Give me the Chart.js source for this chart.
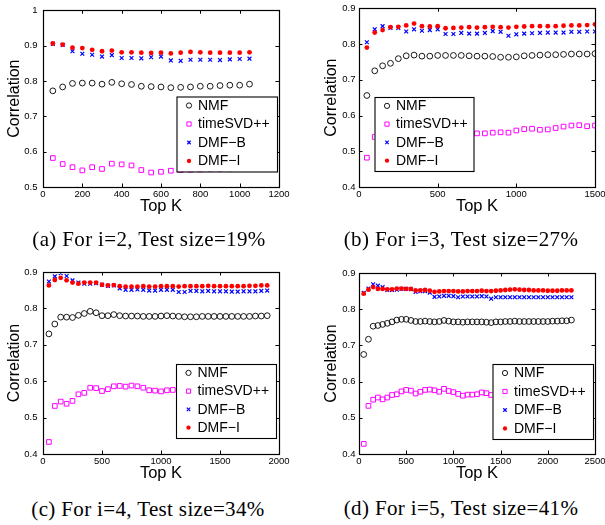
<!DOCTYPE html>
<html>
<head>
<meta charset="utf-8">
<script src="https://cdn.jsdelivr.net/npm/chart.js@4.4.0/dist/chart.umd.min.js"></script>
<style>
html, body { margin:0; padding:0; background:#fff; }
body { width:605px; height:525px; overflow:hidden; position:relative; }
.wrap { position:absolute; }
.cap { position:absolute; font-family:"Liberation Serif","Times New Roman",serif; font-size:21px; letter-spacing:0.35px; color:#000; white-space:nowrap; transform:translate(-50%,-50%); }
</style>
</head>
<body>
<div class="wrap" id="wa" style="left:0px;top:0px;width:300px;height:235px"><canvas id="ca"></canvas></div>
<div class="wrap" id="wb" style="left:300px;top:0px;width:320px;height:235px"><canvas id="cb"></canvas></div>
<div class="wrap" id="wc" style="left:0px;top:255px;width:300px;height:235px"><canvas id="cc"></canvas></div>
<div class="wrap" id="wd" style="left:300px;top:255px;width:320px;height:235px"><canvas id="cd"></canvas></div>
<div class="cap" style="left:149px;top:239px">(a) For i=2, Test size=19%</div>
<div class="cap" style="left:461px;top:239px">(b) For i=3, Test size=27%</div>
<div class="cap" style="left:148px;top:509px">(c) For i=4, Test size=34%</div>
<div class="cap" style="left:461px;top:508px">(d) For i=5, Test size=41%</div>
<script>
// ---------- DATA ----------
const seriesNames = ["NMF", "timeSVD++", "DMF\u2212B", "DMF\u2212I"];

// (a) i=2
const kA = [50,100,150,200,250,300,350,400,450,500,550,600,650,700,750,800,850,900,950,1000,1050];
const nmfA  = [0.772,0.783,0.793,0.794,0.794,0.791,0.796,0.792,0.790,0.785,0.784,0.783,0.781,0.782,0.783,0.785,0.785,0.787,0.788,0.788,0.791];
const svdA  = [0.582,0.565,0.556,0.547,0.556,0.551,0.566,0.564,0.561,0.548,0.541,0.543,0.546,0.548,0.549,0.550,0.551,0.551,0.552,0.553,0.554];
const dmfbA = [0.905,0.902,0.884,0.877,0.874,0.869,0.873,0.865,0.865,0.864,0.867,0.869,0.858,0.857,0.860,0.860,0.860,0.859,0.861,0.862,0.863];
const dmfiA = [0.906,0.903,0.894,0.893,0.888,0.884,0.886,0.881,0.881,0.880,0.879,0.880,0.878,0.880,0.882,0.881,0.880,0.880,0.880,0.880,0.881];

// (b) i=3
const kB = [50,100,150,200,250,300,350,400,450,500,550,600,650,700,750,800,850,900,950,1000,1050,1100,1150,1200,1250,1300,1350,1400,1450,1500];
const nmfB  = [0.656,0.725,0.739,0.746,0.759,0.767,0.769,0.766,0.766,0.768,0.768,0.768,0.768,0.767,0.766,0.766,0.765,0.763,0.763,0.764,0.767,0.768,0.769,0.770,0.770,0.771,0.772,0.772,0.772,0.773];
const svdB  = [0.482,0.540,0.545,0.547,0.548,0.549,0.550,0.549,0.548,0.549,0.550,0.549,0.548,0.549,0.550,0.550,0.552,0.553,0.552,0.558,0.562,0.563,0.560,0.561,0.565,0.569,0.572,0.573,0.570,0.572];
const dmfbB = [0.805,0.841,0.850,0.845,0.845,0.835,0.841,0.837,0.839,0.841,0.828,0.828,0.831,0.829,0.829,0.831,0.836,0.834,0.823,0.827,0.829,0.830,0.831,0.832,0.832,0.832,0.834,0.834,0.835,0.835];
const dmfiB = [0.790,0.832,0.839,0.847,0.848,0.852,0.857,0.850,0.849,0.850,0.844,0.845,0.846,0.847,0.846,0.847,0.848,0.847,0.846,0.848,0.849,0.850,0.850,0.850,0.850,0.851,0.852,0.852,0.853,0.855];

// (c) i=4
const kC = [50,100,150,200,250,300,350,400,450,500,550,600,650,700,750,800,850,900,950,1000,1050,1100,1150,1200,1250,1300,1350,1400,1450,1500,1550,1600,1650,1700,1750,1800,1850,1900];
const nmfC  = [0.730,0.757,0.776,0.776,0.775,0.781,0.786,0.792,0.788,0.780,0.780,0.783,0.780,0.779,0.779,0.779,0.778,0.778,0.778,0.779,0.780,0.779,0.778,0.777,0.777,0.777,0.778,0.778,0.778,0.778,0.778,0.778,0.778,0.778,0.778,0.779,0.779,0.780];
const svdC  = [0.433,0.532,0.544,0.538,0.546,0.564,0.568,0.582,0.581,0.573,0.578,0.586,0.587,0.585,0.588,0.586,0.582,0.575,0.574,0.572,0.575,0.576,0.575,0.574,0.575,0.576,0.577,0.576,0.575,0.576,0.577,0.578,0.577,0.576,0.577,0.578,0.578,0.579];
const dmfbC = [0.874,0.888,0.897,0.889,0.877,0.871,0.868,0.868,0.869,0.865,0.862,0.863,0.855,0.851,0.851,0.852,0.851,0.849,0.849,0.851,0.851,0.851,0.845,0.845,0.848,0.848,0.847,0.848,0.847,0.847,0.847,0.846,0.846,0.847,0.847,0.847,0.848,0.849];
const dmfiC = [0.863,0.878,0.884,0.877,0.871,0.868,0.871,0.871,0.871,0.865,0.863,0.864,0.861,0.860,0.860,0.860,0.861,0.860,0.860,0.861,0.861,0.861,0.860,0.861,0.861,0.861,0.861,0.862,0.861,0.861,0.861,0.861,0.861,0.861,0.862,0.862,0.863,0.863];

// (d) i=5
const kD = [50,100,150,200,250,300,350,400,450,500,550,600,650,700,750,800,850,900,950,1000,1050,1100,1150,1200,1250,1300,1350,1400,1450,1500,1550,1600,1650,1700,1750,1800,1850,1900,1950,2000,2050,2100,2150,2200,2250];
const nmfD  = [0.675,0.717,0.753,0.755,0.758,0.761,0.765,0.770,0.772,0.772,0.769,0.766,0.766,0.767,0.766,0.765,0.766,0.769,0.767,0.765,0.765,0.764,0.765,0.765,0.765,0.765,0.764,0.763,0.765,0.765,0.766,0.766,0.767,0.766,0.766,0.766,0.766,0.766,0.766,0.766,0.767,0.767,0.768,0.768,0.770];
const svdD  = [0.428,0.533,0.550,0.556,0.551,0.556,0.563,0.565,0.573,0.577,0.575,0.567,0.572,0.577,0.578,0.576,0.572,0.580,0.574,0.571,0.566,0.561,0.564,0.564,0.565,0.570,0.568,0.563,0.564,0.565,0.566,0.565,0.566,0.567,0.566,0.567,0.568,0.567,0.568,0.569,0.568,0.569,0.570,0.569,0.570];
const dmfbD = [0.845,0.857,0.869,0.865,0.861,0.853,0.853,0.854,0.856,0.856,0.855,0.848,0.850,0.850,0.846,0.834,0.835,0.837,0.837,0.836,0.833,0.835,0.835,0.835,0.835,0.836,0.835,0.829,0.833,0.833,0.833,0.833,0.833,0.833,0.833,0.833,0.833,0.833,0.833,0.833,0.833,0.833,0.833,0.833,0.833];
const dmfiD = [0.843,0.854,0.861,0.856,0.856,0.855,0.855,0.857,0.857,0.856,0.856,0.852,0.852,0.853,0.851,0.848,0.849,0.850,0.850,0.850,0.849,0.849,0.850,0.850,0.850,0.851,0.850,0.850,0.851,0.852,0.853,0.854,0.855,0.854,0.853,0.853,0.852,0.852,0.852,0.851,0.851,0.851,0.852,0.852,0.852];

// ---------- STYLES ----------
const styles = [
  { pointStyle:'circle',   radius:2.9, borderColor:'#000000', backgroundColor:'rgba(0,0,0,0)', borderWidth:0.9, order:3 },
  { pointStyle:'rect',     radius:3.3, borderColor:'#ff00ff', backgroundColor:'rgba(0,0,0,0)', borderWidth:1.0, order:2 },
  { pointStyle:'crossRot', radius:2.7, borderColor:'#0000ff', backgroundColor:'#0000ff',       borderWidth:1.2, order:1 },
  { pointStyle:'circle',   radius:2.4, borderColor:'#ff0000', backgroundColor:'#ff0000',       borderWidth:0,   order:0 }
];

function drawMarker(ctx, st, x, y, scale) {
  const r = st.radius * scale;
  ctx.save();
  ctx.lineWidth = st.borderWidth || 1;
  ctx.strokeStyle = st.borderColor;
  ctx.fillStyle = st.backgroundColor;
  ctx.beginPath();
  if (st.pointStyle === 'circle') {
    ctx.arc(x, y, r, 0, Math.PI*2);
    if (st.backgroundColor !== 'rgba(0,0,0,0)') ctx.fill();
    if (st.borderWidth > 0) ctx.stroke();
  } else if (st.pointStyle === 'rect') {
    const s = Math.SQRT1_2 * r;
    ctx.rect(x - s, y - s, 2*s, 2*s);
    ctx.stroke();
  } else {
    const o = Math.SQRT1_2 * r;
    ctx.moveTo(x-o, y-o); ctx.lineTo(x+o, y+o);
    ctx.moveTo(x-o, y+o); ctx.lineTo(x+o, y-o);
    ctx.stroke();
  }
  ctx.restore();
}

const matlabPlugin = {
  id: 'matlab',
  afterDraw(chart) {
    const o = chart.options.plugins.matlab;
    const { ctx, chartArea: a, scales: { x, y } } = chart;
    ctx.save();
    ctx.strokeStyle = '#000';
    ctx.lineWidth = 1;
    const tl = 3.5;
    ctx.beginPath();
    x.ticks.forEach(t => {
      const px = Math.round(x.getPixelForValue(t.value)) + 0.5;
      ctx.moveTo(px, a.bottom); ctx.lineTo(px, a.bottom - tl);
      ctx.moveTo(px, a.top); ctx.lineTo(px, a.top + tl);
    });
    y.ticks.forEach(t => {
      const py = Math.round(y.getPixelForValue(t.value)) + 0.5;
      ctx.moveTo(a.left, py); ctx.lineTo(a.left + tl, py);
      ctx.moveTo(a.right, py); ctx.lineTo(a.right - tl, py);
    });
    ctx.stroke();
    ctx.lineWidth = 1.2;
    ctx.strokeRect(Math.round(a.left) + 0.5, Math.round(a.top) + 0.5, Math.round(a.right - a.left), Math.round(a.bottom - a.top));
    // legend box
    const L = o.legend;
    ctx.fillStyle = '#fff';
    ctx.fillRect(L.x, L.y, L.w, L.h);
    ctx.lineWidth = 1.1;
    ctx.strokeRect(L.x + 0.5, L.y + 0.5, L.w, L.h);
    ctx.font = '14px "Liberation Sans", Arial, sans-serif';
    ctx.fillStyle = '#000';
    ctx.textBaseline = 'middle';
    ctx.textAlign = 'left';
    const rows = [9, 27.5, 46, 64.5];
    seriesNames.forEach((n, i) => {
      const yy = L.y + rows[i] * (L.h / 75);
      drawMarker(ctx, styles[i], L.x + 12.5, yy, 0.9);
      ctx.fillText(n, L.x + 21.5, yy + 0.5);
    });
    ctx.restore();
  }
};

function makeChart(id, cfg) {
  const canvas = document.getElementById(id);
  const ds = [cfg.nmf, cfg.svd, cfg.dmfb, cfg.dmfi].map((vals, i) => ({
    label: seriesNames[i],
    data: cfg.k.map((kk, j) => ({ x: kk, y: vals[j] })),
    showLine: false,
    pointRadius: styles[i].radius,
    pointBorderWidth: styles[i].borderWidth,
    pointBorderColor: styles[i].borderColor,
    pointBackgroundColor: styles[i].backgroundColor,
    borderColor: styles[i].borderColor,
    backgroundColor: styles[i].backgroundColor,
    pointStyle: styles[i].pointStyle,
    order: styles[i].order
  }));
  const tickFont = { family: '"Liberation Sans", Arial, sans-serif', size: 9.5, lineHeight: 1 };
  return new Chart(canvas, {
    type: 'scatter',
    data: { datasets: ds },
    plugins: [matlabPlugin],
    options: {
      responsive: false,
      maintainAspectRatio: false,
      animation: false,
      events: [],
      devicePixelRatio: 1,
      layout: { padding: { top: cfg.padTop, right: cfg.padRight, left: 0, bottom: 0 } },
      plugins: {
        legend: { display: false },
        tooltip: { enabled: false },
        matlab: { legend: cfg.legend }
      },
      scales: {
        x: {
          type: 'linear', min: 0, max: cfg.xMax,
          grid: { display: false, drawTicks: false },
          border: { display: false },
          ticks: { stepSize: cfg.xStep, color: '#000', font: tickFont, padding: 3, maxRotation: 0, autoSkip: false,
                   callback: v => String(v) },
          title: { display: true, text: 'Top K', color: '#000',
                   font: { family: '"Liberation Sans", Arial, sans-serif', size: 16.5, lineHeight: 1 },
                   padding: { top: 0, bottom: cfg.xTitlePad } },
          afterFit: s => { s.height = cfg.xAxisH; }
        },
        y: {
          type: 'linear', min: cfg.yMin, max: cfg.yMax,
          grid: { display: false, drawTicks: false },
          border: { display: false },
          ticks: { stepSize: 0.1, color: '#000', font: tickFont, padding: cfg.yTickPad, autoSkip: false,
                   callback: v => String(Math.round(v * 10) / 10) },
          title: { display: true, text: 'Correlation', color: '#000',
                   font: { family: '"Liberation Sans", Arial, sans-serif', size: 16, lineHeight: 1 },
                   padding: { top: cfg.yTitlePad, bottom: 0 } },
          afterFit: s => { s.width = cfg.yAxisW; }
        }
      }
    }
  });
}

function setup(id, L, T, W, area, extra) {
  const c = document.getElementById(id);
  c.width = W; c.height = 235;
  c.style.width = W + 'px'; c.style.height = '235px';
  const cfg = Object.assign({
    padTop: area.top - T,
    padRight: (L + W) - area.right,
    yAxisW: area.left - L,
    xAxisH: 235 - (area.bottom - T)
  }, extra);
  cfg.xTitlePad = 235 - 8.25 - (area.bottom + 19.5 - T);
  return makeChart(id, cfg);
}

setup('ca', 0, 0, 300, { left:43, top:7, right:279, bottom:187 }, {
  k: kA, nmf: nmfA, svd: svdA, dmfb: dmfbA, dmfi: dmfiA,
  xMax: 1200, xStep: 200, yMin: 0.5, yMax: 1.0, yTickPad: 5.5, yTitlePad: 7,
  legend: { x: 176.5, y: 96.5, w: 100.5, h: 75 }
});
setup('cb', 300, 0, 320, { left:359, top:6, right:595, bottom:187 }, {
  k: kB, nmf: nmfB, svd: svdB, dmfb: dmfbB, dmfi: dmfiB,
  xMax: 1500, xStep: 500, yMin: 0.4, yMax: 0.9, yTickPad: 3.5, yTitlePad: 23.5,
  legend: { x: 74.5, y: 97, w: 99, h: 74 }
});
setup('cc', 0, 255, 300, { left:43, top:272, right:279, bottom:454 }, {
  k: kC, nmf: nmfC, svd: svdC, dmfb: dmfbC, dmfi: dmfiC,
  xMax: 2000, xStep: 500, yMin: 0.4, yMax: 0.9, yTickPad: 5.5, yTitlePad: 7,
  legend: { x: 176, y: 109, w: 100, h: 74 }
});
setup('cd', 300, 255, 320, { left:359, top:273, right:595, bottom:454 }, {
  k: kD, nmf: nmfD, svd: svdD, dmfb: dmfbD, dmfi: dmfiD,
  xMax: 2500, xStep: 500, yMin: 0.4, yMax: 0.9, yTickPad: 3.5, yTitlePad: 23.5,
  legend: { x: 192.5, y: 109, w: 100.5, h: 75 }
});
</script>
</body>
</html>
